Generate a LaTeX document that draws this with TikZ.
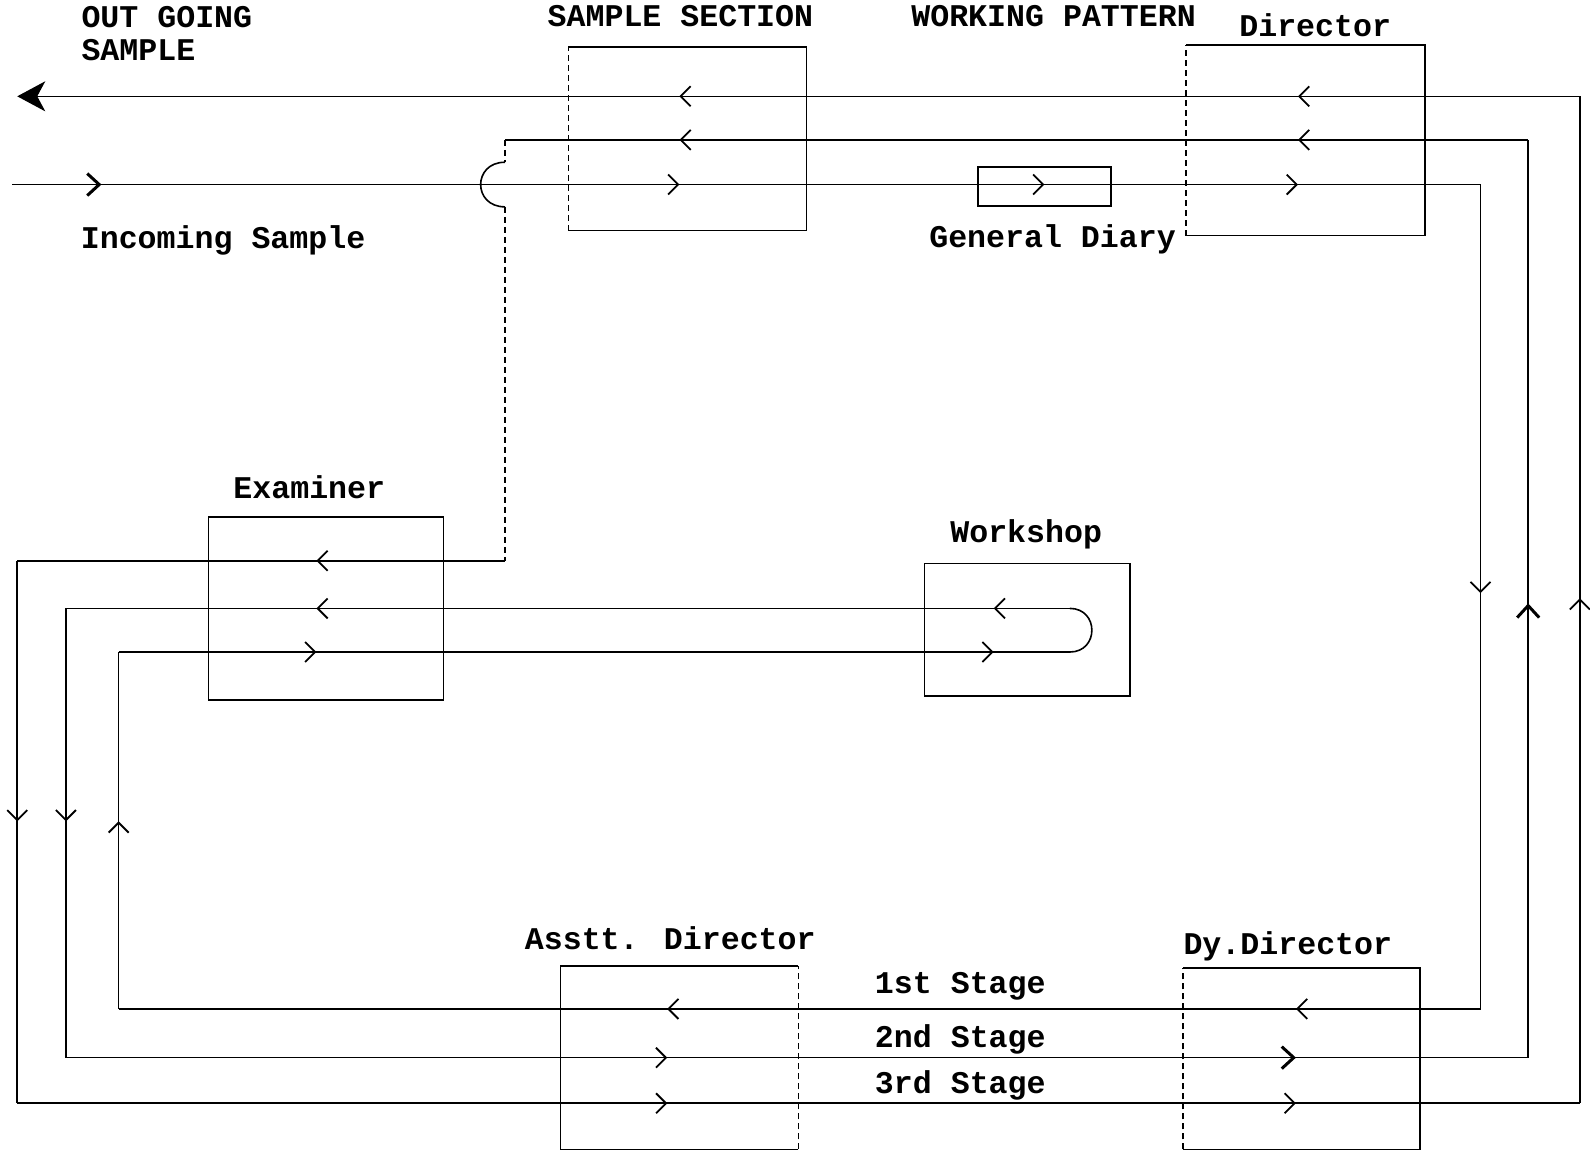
\documentclass[tikz,border=0pt]{standalone}
\usepackage{fontspec}
\setmainfont{Liberation Mono}
\usetikzlibrary{arrows.meta,decorations.markings,fit}
\begin{document}
\begin{tikzpicture}[x=0.507pt,y=-0.507pt,
  flow/.style={line width=0.8pt},
  faint/.style={line width=0.6pt, densely dashed},
  side/.style={line width=0.8pt},
  am/.style={postaction={decorate,decoration={markings,mark=at position #1 with {\arrow[line width=0.9pt]{Straight Barb[length=5pt,width=10pt]}}}}},
  amb/.style={postaction={decorate,decoration={markings,mark=at position #1 with {\arrow[line width=1.5pt]{Straight Barb[length=6pt,width=11pt]}}}}},
  lbl/.style={font=\fontsize{15.8}{16.5}\selectfont\bfseries, inner sep=0pt},
  box/.style={draw=none, inner sep=0pt}
]
\useasboundingbox (0,0) rectangle (1568,1136);
\fill[white] (0,0) rectangle (1568,1136);

% boxes
\node[box, fit={(561,47)(795,227)}] (ss) {};
\node[box, fit={(1170,45)(1405,232)}] (dir) {};
\node[box, fit={(965,165)(1095,203)}] (gd) {};
\node[box, fit={(206,510)(437,690)}] (ex) {};
\node[box, fit={(912,556)(1114,686)}] (ws) {};
\node[box, fit={(553,953)(787,1133)}] (ad) {};
\node[box, fit={(1167,955)(1400,1133)}] (dy) {};

\draw[side] (ss.north west) -- (ss.north east) -- (ss.south east) -- (ss.south west);
\draw[faint] (ss.south west) -- (ss.north west);
\draw[side] (dir.north west) -- (dir.north east) -- (dir.south east) -- (dir.south west);
\draw[faint] (dir.south west) -- (dir.north west);
\draw[side] (gd.north west) rectangle (gd.south east);
\draw[side] (ex.north west) rectangle (ex.south east);
\draw[side] (ws.north west) rectangle (ws.south east);
\draw[side] (ad.north east) -- (ad.north west) -- (ad.south west) -- (ad.south east);
\draw[faint] (ad.south east) -- (ad.north east);
\draw[side] (dy.north west) -- (dy.north east) -- (dy.south east) -- (dy.south west);
\draw[faint] (dy.south west) -- (dy.north west);

% path points
\coordinate (inStart) at (12,182);
\coordinate (c1) at (1460,182);
\coordinate (c2) at (1460,995);
\coordinate (c3) at (117,995);
\coordinate (c4) at (117,643);
\coordinate (c5) at (1055,643);
\coordinate (c6) at (1055,600);
\coordinate (c7) at (65,600);
\coordinate (c8) at (65,1043);
\coordinate (c9) at (1507,1043);
\coordinate (c10) at (1507,138);
\coordinate (c11) at (498,138);
\coordinate (h1) at (498,160);
\coordinate (h2) at (498,204);
\coordinate (c12) at (498,553);
\coordinate (c13) at (17,553);
\coordinate (c14) at (17,1088);
\coordinate (c15) at (1558,1088);
\coordinate (c16) at (1558,95);
\coordinate (outEnd) at (17,95);

% flow lines
\draw[flow, amb=0.0608, am=0.4544, am=0.703, am=0.8757] (inStart) -- (c1);
\draw[flow, am=0.4957] (c1) -- (c2);
\draw[flow, am=0.1355, am=0.5972] (c2) -- (c3);
\draw[flow, am=0.5256] (c3) -- (c4);
\draw[flow, am=0.2079, am=0.92] (c4) -- (c5);
\draw[flow] (c5) .. controls (1084,643) and (1084,600) .. (c6);
\draw[flow, am=0.0758, am=0.7505] (c6) -- (c7);
\draw[flow, am=0.474] (c7) -- (c8);
\draw[flow, am=0.4112, amb=0.8412] (c8) -- (c9);
\draw[flow, amb=0.495] (c9) -- (c10);
\draw[flow, am=0.225, am=0.8295] (c10) -- (c11);
\draw[faint] (c11) -- (h1);
\draw[flow] (h1) .. controls (466,160) and (466,204) .. (h2);
\draw[faint] (h2) -- (c12);
\draw[flow, am=0.3867] (c12) -- (c13);
\draw[flow, am=0.4804] (c13) -- (c14);
\draw[flow, am=0.416, am=0.8183] (c14) -- (c15);
\draw[flow, am=0.5015] (c15) -- (c16);
\draw[flow, am=0.1804, am=0.5763, -{Stealth[length=14pt,width=15pt,inset=4pt]}] (c16) -- (outEnd);

% labels
\node[lbl, anchor=north west, align=left] (og) at (80,6) {OUT GOING\\SAMPLE};
\node[lbl] (inl) at (220,237) {Incoming Sample};
\node[lbl] (ssl) at (671,16) {SAMPLE SECTION};
\node[lbl] (wpl) at (1039,16) {WORKING PATTERN};
\node[lbl] (dirl) at (1297,25) {Director};
\node[lbl] (gdl) at (1038,236) {General Diary};
\node[lbl] (exl) at (305,480) {Examiner};
\node[lbl] (wsl) at (1012,527) {Workshop};
\node[lbl] (adl) at (661,925) {Asstt. Director};
\node[lbl] (dyl) at (1270,933) {Dy.Director};
\node[lbl] (st1) at (947,973) {1st Stage};
\node[lbl] (st2) at (947,1025) {2nd Stage};
\node[lbl] (st3) at (947,1070) {3rd Stage};
\end{tikzpicture}
\end{document}
